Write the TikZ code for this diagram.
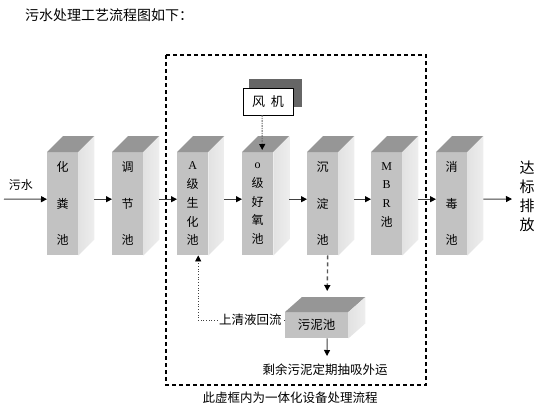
\documentclass[tikz,border=0pt]{standalone}
\usepackage{fontspec}
\setmainfont{Noto Sans CJK SC}
\newfontfamily\lat{Liberation Serif}
\usetikzlibrary{arrows.meta}
\definecolor{frontc}{HTML}{C2C2C2}
\definecolor{topc}{HTML}{969696}
\definecolor{sidec}{HTML}{E2E2E2}
\definecolor{linec}{HTML}{404040}
\newcommand\boxfaces[3]{%
  \fill[topc] (#1.north west) -- ++(#2pt,#3pt) -- ([shift={(#2pt,#3pt)}]#1.north east) -- (#1.north east) -- cycle;
  \shade[left color=sidec, right color=sidec!60!white] (#1.north east) -- ++(#2pt,#3pt) -- ([shift={(#2pt,#3pt)}]#1.south east) -- (#1.south east) -- cycle;}
\tikzset{
  pool/.style={fill=frontc, minimum width=31pt, minimum height=103pt, inner sep=0pt, anchor=north west, align=center, font=\fontsize{12}{36.5}\selectfont},
  poolfive/.style={pool, font=\fontsize{12}{18.75}\selectfont},
  arr/.style={draw=linec, line width=1pt, -{Triangle[length=6pt,width=6pt,color=black]}},
  txt/.style={inner sep=0pt, font=\fontsize{12.5}{14}\selectfont},
}
\begin{document}
\begin{tikzpicture}[x=1pt,y=-1pt]
\useasboundingbox (0,0) rectangle (553,413);
% title
\node[txt, anchor=west, font=\fontsize{14}{15}\selectfont] (title) at (25,15) {污水处理工艺流程图如下：};
% dashed frame
\draw[black, line width=1.1pt, dash pattern=on 4pt off 3pt] (166,55) rectangle (426,385);
% pools
\node[pool] (b1) at (47,152) {化\\粪\\池};
\node[pool] (b2) at (112,152) {调\\节\\池};
\node[poolfive] (b3) at (177,152) {{\lat A}\\级\\生\\化\\池};
\node[poolfive] (b4) at (242,152) {{\lat o}\\级\\好\\氧\\池};
\node[pool] (b5) at (307,152) {沉\\淀\\池};
\node[poolfive] (b6) at (371,152) {{\lat M}\\{\lat B}\\{\lat R}\\池\\\mbox{}};
\node[pool] (b7) at (436,152) {消\\毒\\池};
\foreach \b in {b1,b2,b3,b4,b5,b6,b7} {\boxfaces{\b}{16}{16}}
% sludge tank
\node[fill=frontc, minimum width=63pt, minimum height=26pt, inner sep=0pt, anchor=north west, font=\fontsize{12.5}{14}\selectfont] (sl) at (285,312) {污泥池};
\boxfaces{sl}{17}{15}
% blower
\fill[gray!80!black] (249,79) rectangle (302,107);
\node[draw=black, fill=white, minimum width=50pt, minimum height=27pt, inner sep=0pt, font=\fontsize{13}{15}\selectfont] (fk) at (268,101.5) {风\hspace{6pt}机};
% inputs/outputs
\coordinate (in) at (4,199);
\node[txt, font=\fontsize{12}{14}\selectfont] (ws) at (21,185) {污水};
\coordinate (out) at (512,199);
\node[inner sep=0pt, align=center, font=\fontsize{15}{19}\selectfont] (db) at (527,196.5) {达\\标\\排\\放};
% main arrows
\draw[arr] (in) -- ([yshift=4.5pt]b1.west);
\draw[arr] ([xshift=16pt,yshift=4.5pt]b1.east) -- ([yshift=4.5pt]b2.west);
\draw[arr] ([xshift=16pt,yshift=4.5pt]b2.east) -- ([yshift=4.5pt]b3.west);
\draw[arr] ([xshift=16pt,yshift=4.5pt]b3.east) -- ([yshift=4.5pt]b4.west);
\draw[arr] ([xshift=16pt,yshift=4.5pt]b4.east) -- ([yshift=4.5pt]b5.west);
\draw[arr] ([xshift=16pt,yshift=4.5pt]b5.east) -- ([yshift=4.5pt]b6.west);
\draw[arr] ([xshift=16pt,yshift=4.5pt]b6.east) -- ([yshift=4.5pt]b7.west);
\draw[arr] ([xshift=16pt,yshift=4.5pt]b7.east) -- (out);
% blower air
\draw[draw=gray!80!black, line width=1pt, dash pattern=on 2pt off 1pt on 1pt off 1pt, -{Triangle[length=6pt,width=6pt,color=black]}] ([xshift=-6pt]fk.south) -- ([xshift=4.5pt,yshift=2pt]b4.north);
% sludge flow
\draw[draw=gray!70!black, line width=1.4pt, dash pattern=on 4pt off 3pt, -{Triangle[length=6pt,width=6pt,color=black]}] ([xshift=5pt]b5.south) -- ([xshift=10.5pt,yshift=21pt]sl.north);
% return flow
\draw[draw=linec, line width=0.7pt, dotted, -{Triangle[length=6pt,width=6pt,color=black]}] ([yshift=5pt]sl.west) -| node[pos=0.2, fill=white, inner sep=1pt, font=\fontsize{12.5}{14}\selectfont] (hl) {上清液回流} ([xshift=5.5pt]b3.south);
% sludge out
\coordinate (so) at (327,356);
\draw[arr] ([xshift=10.5pt]sl.south) -- (so);
\node[txt] (rm) at (325,370) {剩余污泥定期抽吸外运};
% caption
\node[txt] (cap) at (290,398) {此虚框内为一体化设备处理流程};
\end{tikzpicture}
\end{document}
